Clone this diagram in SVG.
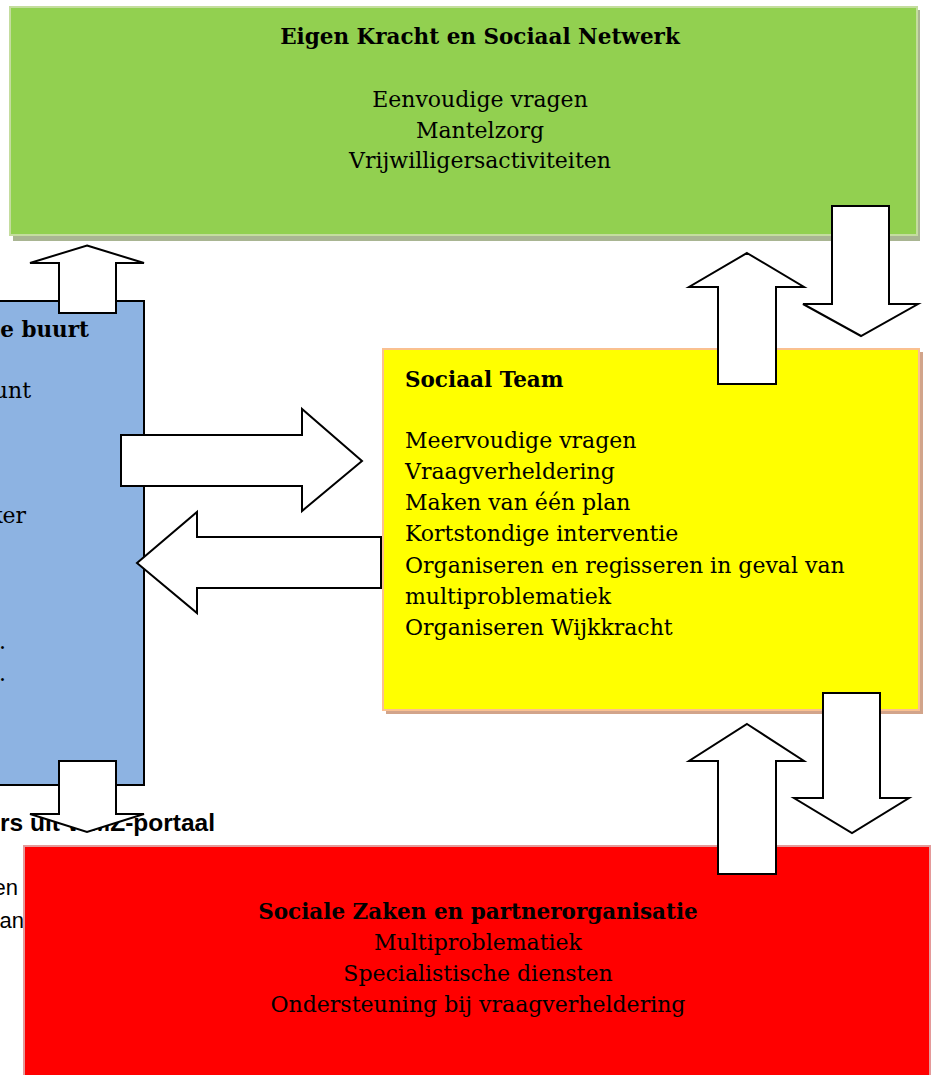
<svg xmlns="http://www.w3.org/2000/svg" width="933" height="1075" viewBox="0 0 933 1075">
<style>
.serif{font-family:"DejaVu Serif","Liberation Serif",serif;font-size:22px;fill:#000}
.b{font-weight:bold;font-size:21.5px}
.sans{font-family:"Liberation Sans",Arial,sans-serif;fill:#000}
.arrow{fill:#fff;stroke:#000;stroke-width:2;stroke-linejoin:miter}
</style>
<rect width="933" height="1075" fill="#fff"/>
<g id="node-green">
<rect x="13" y="10" width="907" height="231" fill="#a9b592"/>
<rect x="10" y="7" width="907" height="228" fill="#92d050" stroke="#c4dd9e" stroke-width="2"/>
<text class="serif b" x="480" y="44" text-anchor="middle">Eigen Kracht en Sociaal Netwerk</text>
<text class="serif" x="480" y="107" text-anchor="middle">Eenvoudige vragen</text>
<text class="serif" x="480" y="138" text-anchor="middle">Mantelzorg</text>
<text class="serif" x="480" y="168" text-anchor="middle">Vrijwilligersactiviteiten</text>
</g>
<g id="node-blue">
<rect x="-60" y="301" width="204" height="484" fill="#8db3e2" stroke="#000" stroke-width="2"/>
<text class="serif b" x="89" y="337" text-anchor="end">e buurt</text>
<text class="serif" x="31" y="398" text-anchor="end">unt</text>
<text class="serif" x="26" y="523" text-anchor="end">ker</text>
<text class="serif" x="-1" y="649">.</text>
<text class="serif" x="-1" y="681">.</text>
</g>
<g id="node-outside-text">
<text class="sans" x="0" y="831" font-size="24.5" font-weight="bold">rs uit WMZ-portaal</text>
<text class="sans" x="18" y="895" text-anchor="end" font-size="22">en</text>
<text class="sans" x="24" y="928" text-anchor="end" font-size="22">an</text>
</g>
<g id="node-yellow">
<rect x="386" y="352" width="537" height="362" fill="#d2a48a"/>
<rect x="383" y="349" width="536" height="361" fill="#ffff00" stroke="#fac090" stroke-width="2"/>
<text class="serif b" x="405" y="387">Sociaal Team</text>
<text class="serif" x="405" y="448">Meervoudige vragen</text>
<text class="serif" x="405" y="479">Vraagverheldering</text>
<text class="serif" x="405" y="510">Maken van één plan</text>
<text class="serif" x="405" y="541">Kortstondige interventie</text>
<text class="serif" x="405" y="573">Organiseren en regisseren in geval van</text>
<text class="serif" x="405" y="604">multiproblematiek</text>
<text class="serif" x="405" y="635">Organiseren Wijkkracht</text>
</g>
<g id="node-red">
<rect x="24" y="846" width="906" height="240" fill="#ff0000" stroke="#e49a9a" stroke-width="2"/>
<text class="serif b" x="478" y="919" text-anchor="middle">Sociale Zaken en partnerorganisatie</text>
<text class="serif" x="478" y="950" text-anchor="middle">Multiproblematiek</text>
<text class="serif" x="478" y="981" text-anchor="middle">Specialistische diensten</text>
<text class="serif" x="478" y="1012" text-anchor="middle">Ondersteuning bij vraagverheldering</text>
</g>
<g id="connectors">
<polygon class="arrow" points="87,245.5 144,263 116,263 116,313 59,313 59,263 30,263"/>
<polygon class="arrow" points="59,761 116,761 116,814 144,814 87,832 30,814 59,814"/>
<polygon class="arrow" points="121,435 302,435 302,409 362,461 302,511 302,486 121,486"/>
<polygon class="arrow" points="381,537 197,537 197,512 137,563 197,613 197,588 381,588"/>
<polygon class="arrow" points="747,253 804,287 776,287 776,384 718,384 718,287 689,287"/>
<polygon class="arrow" points="832,206 889,206 889,304 918,304 861,336 803,304 832,304"/>
<polygon class="arrow" points="747,724 804,761 776,761 776,874 718,874 718,761 689,761"/>
<polygon class="arrow" points="823,693 880,693 880,798 909,798 852,833 794,798 823,798"/>
</g>
</svg>
